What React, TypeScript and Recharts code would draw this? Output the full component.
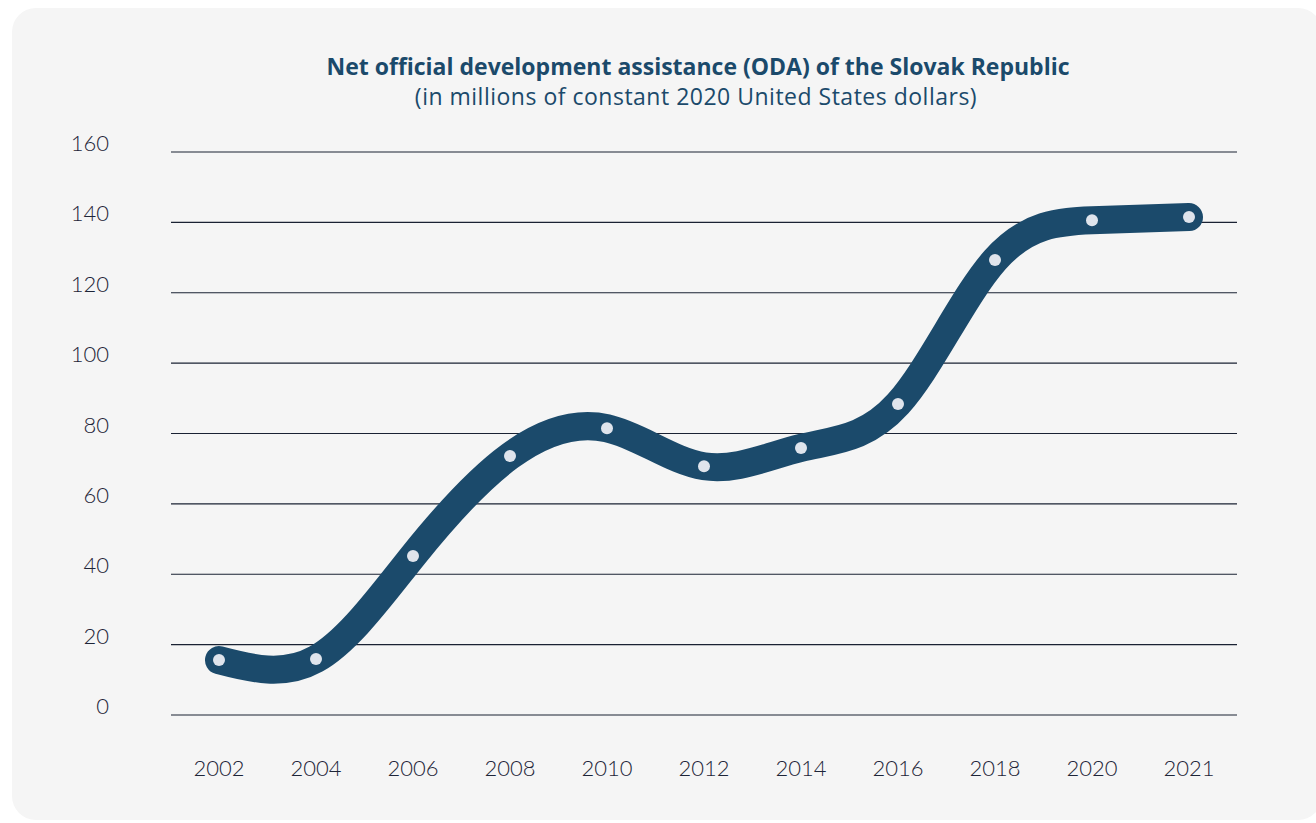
import React from "react";
import { LineChart, Line, XAxis, YAxis, CartesianGrid } from "recharts";

const years = ["2002", "2004", "2006", "2008", "2010", "2012", "2014", "2016", "2018", "2020", "2021"];
const oda = [15.6, 15.9, 45.2, 73.6, 81.5, 70.7, 75.9, 88.4, 129.3, 140.6, 141.5];
const yTicks = [0, 20, 40, 60, 80, 100, 120, 140, 160];

const data = years.map((y, i) => ({ year: y, oda: oda[i] }));

const FONT = "Lato, 'Open Sans', sans-serif";
const TFONT = "'Open Sans', Lato, sans-serif";
const DARK = "#1b4a6b";
const TEXT = "#1e2538";

const YTick = (p: any) => (
  <text x={109} y={p.y - 1} textAnchor="end" fontSize={22} fontWeight={300} fill={TEXT} fontFamily={FONT}>
    {p.payload.value}
  </text>
);

const XTick = (p: any) => (
  <text x={p.x} y={776} textAnchor="middle" fontSize={22} fontWeight={300} fill={TEXT} fontFamily={FONT}>
    {p.payload.value}
  </text>
);

export default function App() {
  return (
    <div style={{ position: "absolute", left: 0, top: 0, width: 1316, height: 823, background: "#ffffff", overflow: "hidden" }}>
      <div style={{ position: "absolute", left: 12, top: 8, width: 1310, height: 812, background: "#f5f5f5", borderRadius: 24 }} />
      <div style={{ position: "absolute", left: 0, top: 52, width: 1396, textAlign: "center", fontFamily: TFONT, color: DARK, fontWeight: 700, fontSize: 23, lineHeight: "28px" }}>
        Net official development assistance (ODA) of the Slovak Republic
      </div>
      <div style={{ position: "absolute", left: 0, top: 82, width: 1392, textAlign: "center", fontFamily: TFONT, color: DARK, fontSize: 23, letterSpacing: 0.5, lineHeight: "28px" }}>
        (in millions of constant 2020 United States dollars)
      </div>
      <div style={{ position: "absolute", left: 0, top: 0 }}>
        <LineChart width={1316} height={823} data={data} margin={{ top: 152, right: 79, bottom: 0, left: 0 }}>
          <CartesianGrid vertical={false} stroke="#1a2233" strokeWidth={1.2} />
          <XAxis dataKey="year" axisLine={false} tickLine={false} height={108} padding={{ left: 48, right: 48 }} tick={<XTick />} interval={0} />
          <YAxis domain={[0, 160]} ticks={yTicks} axisLine={false} tickLine={false} width={171} tick={<YTick />} interval={0} />
          <Line
            type="natural"
            dataKey="oda"
            stroke={DARK}
            strokeWidth={28}
            strokeLinecap="round"
            strokeLinejoin="round"
            dot={{ r: 6, fill: "#dfe4ec", stroke: "none", strokeWidth: 0 }}
            activeDot={false}
            isAnimationActive={false}
          />
        </LineChart>
      </div>
    </div>
  );
}
